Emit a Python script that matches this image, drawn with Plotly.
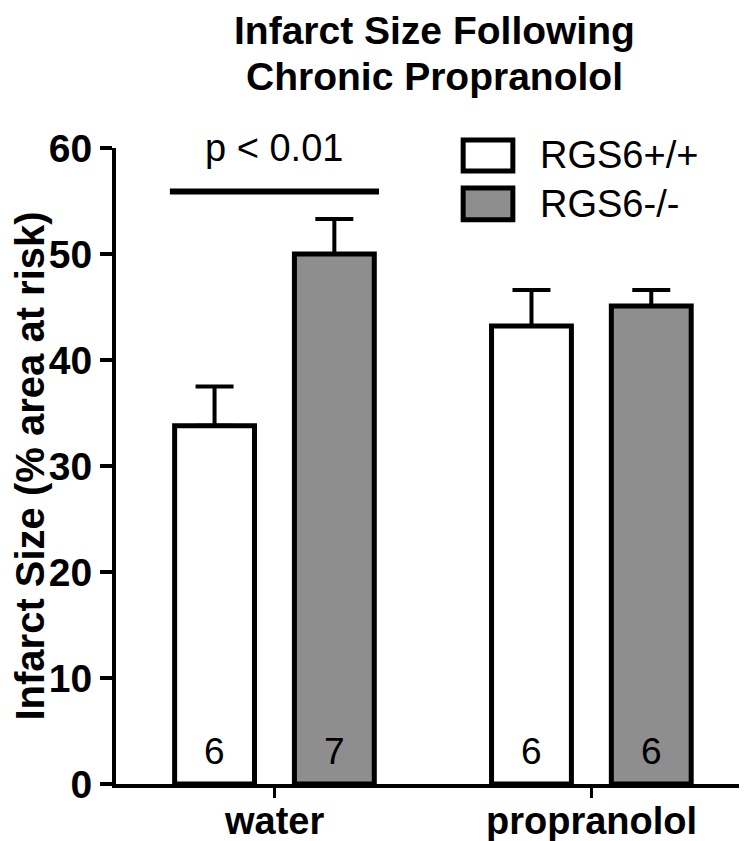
import plotly.graph_objects as go

# ---- data ----
categories = ["water", "propranolol"]
series_names = ["RGS6+/+", "RGS6-/-"]
wt_values = [33.8, 43.2]
wt_sem = [3.7, 3.4]
ko_values = [50.0, 45.1]
ko_sem = [3.3, 1.5]
wt_n = ["6", "6"]
ko_n = ["7", "6"]
y_ticks = [0, 10, 20, 30, 40, 50, 60]
sig_label = "p < 0.01"
sig_level = [55.9]
title_lines = ["Infarct Size Following", "Chronic Propranolol"]
y_title = "Infarct Size (% area at risk)"

# ---- style / layout constants ----
FONT = "Liberation Sans, Arial, sans-serif"
BAR_W = 0.252
OFF = 0.189
GRAY = "#8e8e8e"
TOP = 140
PLOT_H = 841 - TOP - 65


def px_to_paper(py):
    return 1 + (TOP - py) / PLOT_H


x_idx = list(range(len(categories)))
wt_x = [i - OFF for i in x_idx]
ko_x = [i + OFF for i in x_idx]

fig = go.Figure()
for name, xs, vals, errs, fill in [
    (series_names[0], wt_x, wt_values, wt_sem, "white"),
    (series_names[1], ko_x, ko_values, ko_sem, GRAY),
]:
    fig.add_trace(go.Bar(
        x=xs, y=vals, width=BAR_W, name=name,
        marker=dict(color=fill, line=dict(color="black", width=5)),
        error_y=dict(type="data", array=errs, arrayminus=[0] * len(errs),
                     symmetric=False, color="black", thickness=4, width=19),
        showlegend=False,
    ))

# n labels
for xs, ns in [(wt_x, wt_n), (ko_x, ko_n)]:
    for xv, t in zip(xs, ns):
        fig.add_annotation(x=xv, y=0, text=t, showarrow=False, yanchor="bottom",
                           yshift=10, font=dict(family=FONT, size=37, color="black"))

# category labels under the axis
for xv, t in zip(x_idx, categories):
    fig.add_annotation(x=xv, y=0, text=t, showarrow=False, yanchor="top",
                       yshift=-15, borderpad=0,
                       font=dict(family=FONT, size=38, color="black", weight="bold"))

# significance bar
sx0 = wt_x[0] - BAR_W / 2 - 0.015
sx1 = ko_x[0] + BAR_W / 2 + 0.015
fig.add_shape(type="line", xref="x", yref="y", x0=sx0, x1=sx1,
              y0=sig_level[0], y1=sig_level[0], line=dict(color="black", width=6))
fig.add_annotation(x=x_idx[0], y=sig_level[0], text=sig_label, showarrow=False,
                   yanchor="bottom", yshift=20,
                   font=dict(family=FONT, size=38, color="black"))

# legend (drawn manually)
leg = [(series_names[0], "white", 1.0126, 0.964), (series_names[1], GRAY, 0.937, 0.887)]
for name, fill, y1, y0 in leg:
    fig.add_shape(type="rect", xref="paper", yref="paper", x0=0.545, x1=0.623,
                  y0=y0, y1=y1, fillcolor=fill, line=dict(color="black", width=5))
    fig.add_annotation(xref="paper", yref="paper", x=0.662, y=(y0 + y1) / 2,
                       text=name, showarrow=False, xanchor="left", yanchor="middle",
                       font=dict(family=FONT, size=38, color="black"))

# title lines
for line, top_px in zip(title_lines, [0, 46]):
    fig.add_annotation(xref="paper", yref="paper", x=0.5, y=px_to_paper(top_px),
                       text=line, showarrow=False, xanchor="center", yanchor="top",
                       borderpad=0,
                       font=dict(family=FONT, size=39, color="black", weight="bold"))

fig.update_layout(
    width=747, height=841,
    margin=dict(l=108, r=2, t=TOP, b=65),
    plot_bgcolor="white", paper_bgcolor="white",
    xaxis=dict(range=[-0.5, 1.51], tickvals=x_idx, showticklabels=False,
               showline=True, linecolor="black", linewidth=4,
               ticks="outside", ticklen=10, tickwidth=3, tickcolor="black",
               showgrid=False, zeroline=False),
    yaxis=dict(range=[0, 60], tickvals=y_ticks,
               showline=True, linecolor="black", linewidth=4,
               ticks="outside", ticklen=12, tickwidth=4, tickcolor="black",
               showgrid=False, zeroline=False,
               tickfont=dict(family=FONT, size=39, color="black", weight="bold"),
               title=dict(text=y_title, standoff=5,
                          font=dict(family=FONT, size=40, color="black", weight="bold"))),
)

fig.write_html("out.html")
